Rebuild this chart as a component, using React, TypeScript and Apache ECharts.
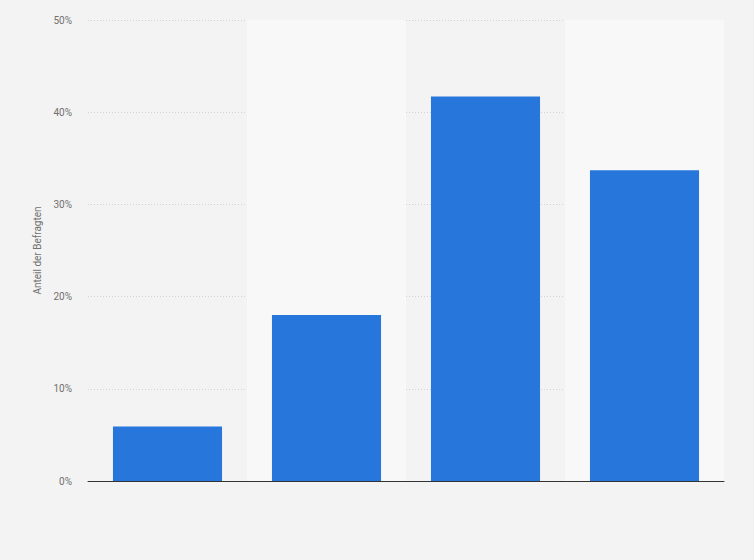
import { useEffect, useRef } from 'react';
import * as echarts from 'echarts';

const categories = ['A', 'B', 'C', 'D'];
const shares = [5.9, 18, 41.7, 33.7];
const yTicks = [0, 10, 20, 30, 40, 50];

export default function App() {
  const chartRef = useRef<HTMLDivElement>(null);

  useEffect(() => {
    if (!chartRef.current) return;
    const chart = echarts.init(chartRef.current, null, { renderer: 'svg' });
    chart.setOption({
      animation: false,
      backgroundColor: '#f3f3f3',
      grid: { left: 88, right: 30, top: 20, bottom: 79 },
      xAxis: {
        type: 'category',
        data: categories,
        axisLine: { show: true, lineStyle: { color: '#333', width: 1 } },
        axisTick: { show: false },
        axisLabel: { show: false },
        splitArea: { show: true, areaStyle: { color: ['rgba(0,0,0,0)', '#f8f8f8'] } },
      },
      yAxis: {
        type: 'value',
        min: yTicks[0],
        max: yTicks[yTicks.length - 1],
        interval: 10,
        name: 'Anteil der Befragten',
        nameLocation: 'middle',
        nameGap: 44,
        nameTextStyle: { color: '#707070', fontSize: 10, fontFamily: 'Roboto, sans-serif' },
        axisLine: { show: false },
        axisTick: { show: false },
        axisLabel: {
          color: '#707070',
          fontSize: 10,
          fontFamily: 'Roboto, sans-serif',
          margin: 16,
          formatter: (v: number) => `${v}%`,
        },
        splitLine: { lineStyle: { color: '#d2d2d2', type: [1, 2] } },
      },
      series: [
        {
          type: 'bar',
          data: shares,
          barWidth: '68.6%',
          itemStyle: { color: '#2776dc' },
        },
      ],
    });
    return () => chart.dispose();
  }, []);

  return (
    <div
      ref={chartRef}
      style={{ position: 'fixed', left: 0, top: 0, width: 754, height: 560 }}
    />
  );
}
